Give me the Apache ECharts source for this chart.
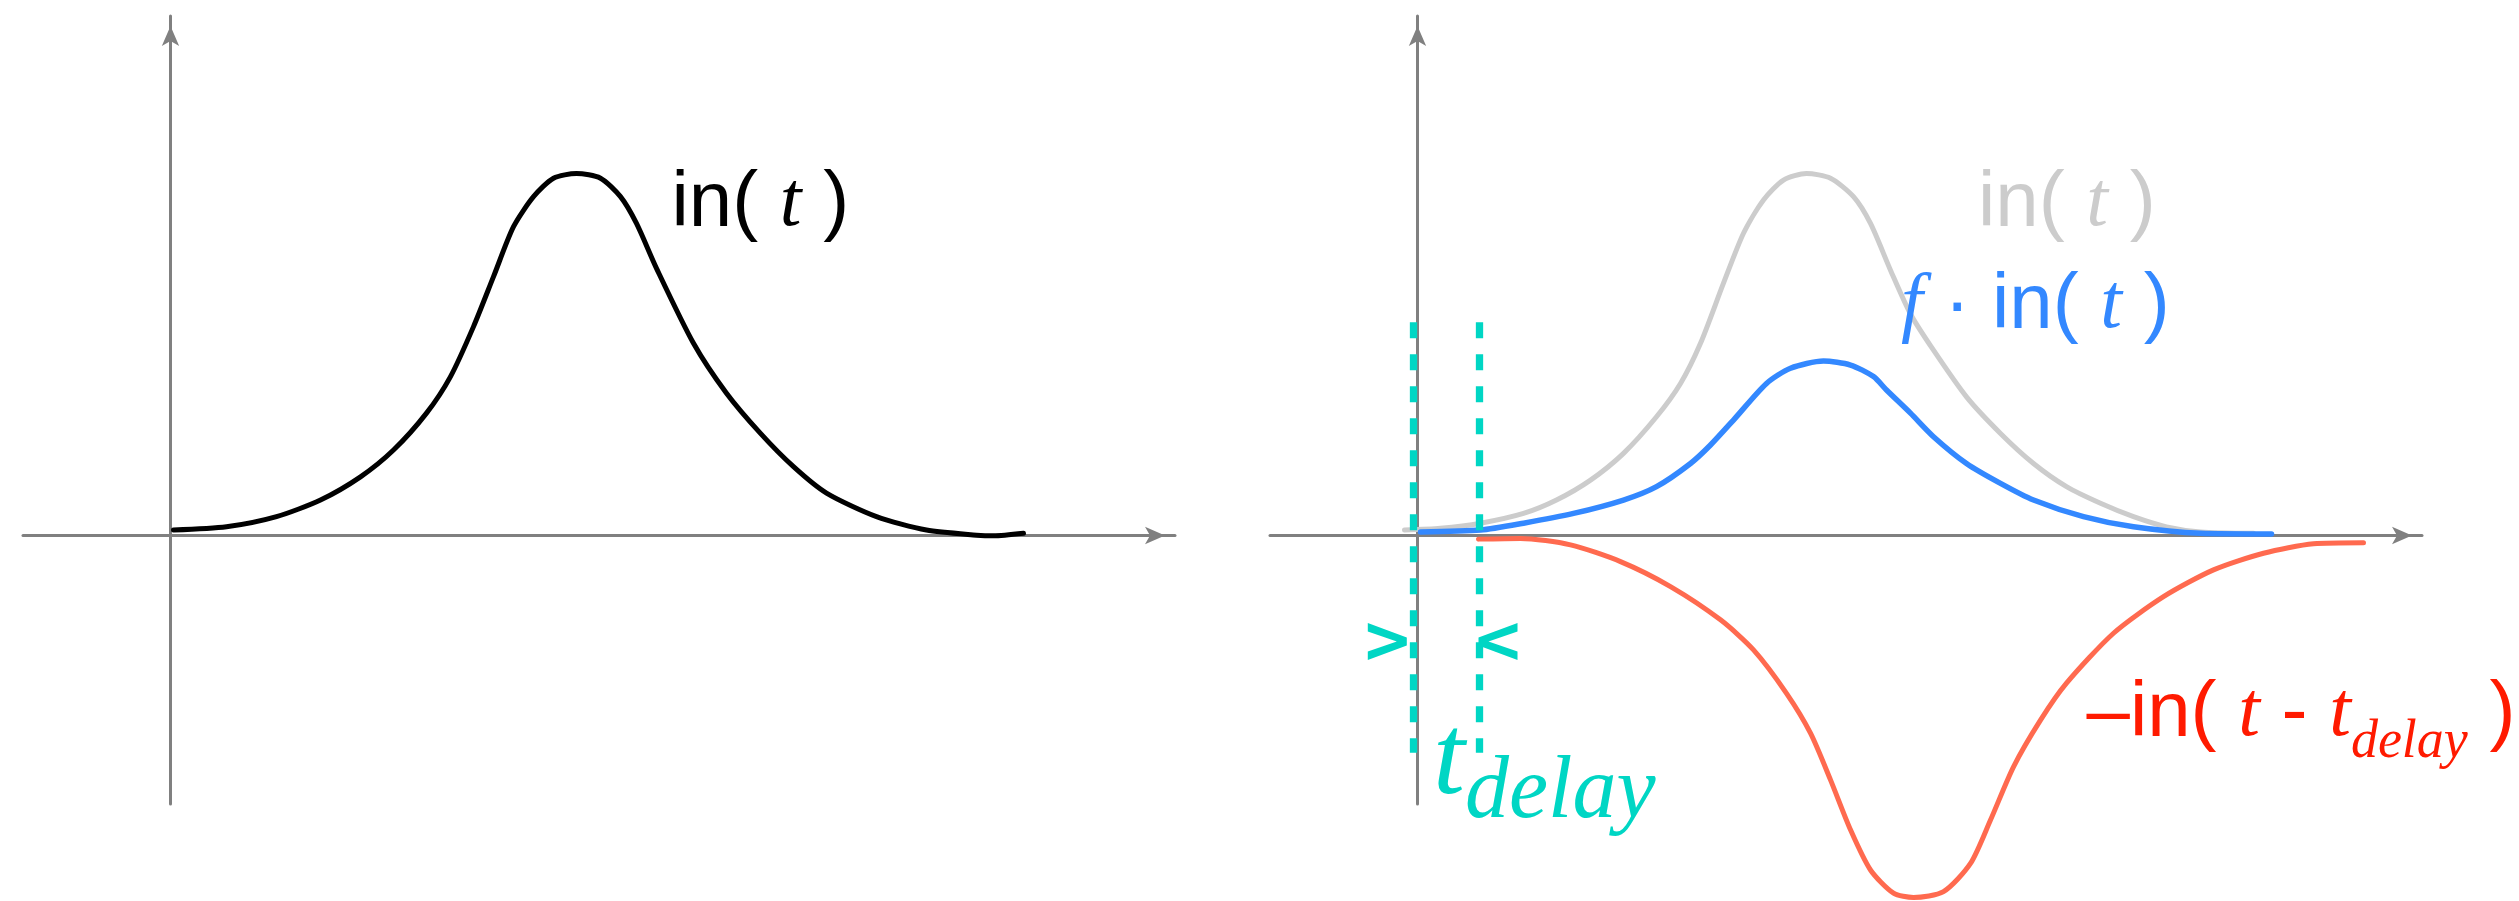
<!DOCTYPE html>
<html>
<head>
<meta charset="utf-8">
<title>in(t) and delayed copy</title>
<script src="https://cdn.jsdelivr.net/npm/echarts/dist/echarts.min.js"></script>
<style>
  html, body { margin: 0; padding: 0; background: #fff; }
  #chart { width: 2519px; height: 901px; }
</style>
</head>
<body>
<div id="chart"></div>
<script>
// left panel: in(t)
var inT = [0.03, 0.56, 1.06, 1.50, 1.90, 2.23, 2.56, 2.80, 3.03, 3.23, 3.43, 3.63, 3.83, 4.06, 4.30, 4.50, 4.66, 4.86, 5.23, 5.56, 5.90, 6.23, 6.56, 7.06, 7.56, 8.06, 8.23, 8.53];
var inV = [0.015, 0.024, 0.052, 0.098, 0.162, 0.236, 0.338, 0.439, 0.577, 0.715, 0.853, 0.936, 0.987, 1.0, 0.987, 0.936, 0.862, 0.738, 0.531, 0.393, 0.282, 0.190, 0.117, 0.052, 0.015, 0.001, -0.001, 0.006];

// right panel: in(t) again (grey)
var grayT = [-0.13, 0.23, 0.63, 1.06, 1.39, 1.73, 2.06, 2.39, 2.63, 2.83, 3.06, 3.26, 3.46, 3.66, 3.89, 4.13, 4.36, 4.53, 4.73, 4.93, 5.16, 5.49, 5.83, 6.16, 6.49, 6.83, 7.16, 7.49, 7.83, 8.36];
var grayV = [0.015, 0.020, 0.034, 0.061, 0.098, 0.153, 0.227, 0.328, 0.420, 0.531, 0.697, 0.835, 0.927, 0.982, 1.0, 0.987, 0.936, 0.862, 0.733, 0.612, 0.512, 0.383, 0.282, 0.199, 0.135, 0.089, 0.052, 0.024, 0.010, 0.006];

// f * in(t)
var blueT = [0.03, 0.63, 1.06, 1.56, 2.06, 2.39, 2.73, 2.93, 3.16, 3.49, 3.73, 4.06, 4.33, 4.56, 4.69, 4.93, 5.16, 5.49, 5.83, 6.16, 6.66, 7.16, 7.83, 8.54];
var blueV = [0.010, 0.015, 0.034, 0.061, 0.098, 0.135, 0.199, 0.250, 0.319, 0.420, 0.462, 0.482, 0.471, 0.439, 0.402, 0.338, 0.273, 0.199, 0.144, 0.098, 0.052, 0.024, 0.006, 0.004];

// -in(t - tdelay)
var redT = [0.61, 1.03, 1.53, 2.03, 2.53, 3.03, 3.36, 3.69, 3.93, 4.13, 4.33, 4.53, 4.76, 4.96, 5.26, 5.53, 5.73, 5.96, 6.23, 6.49, 6.96, 7.46, 7.96, 8.46, 8.96, 9.46];
var redV = [-0.010, -0.008, -0.026, -0.072, -0.141, -0.233, -0.316, -0.436, -0.546, -0.675, -0.813, -0.924, -0.988, -1.0, -0.984, -0.906, -0.786, -0.639, -0.510, -0.408, -0.270, -0.169, -0.095, -0.049, -0.023, -0.020];

// the two ends of t_delay
var delayT = [-0.04, 0.62];
var delaySpan = [0.589, -0.6];

function pairs(ts, vs) {
  return ts.map(function (t, i) { return [t, vs[i]]; });
}

var SANS = '"Liberation Sans", Arial, Helvetica, sans-serif';
var SERIF = '"Liberation Serif", "Times New Roman", serif';
var AXIS = '#808080';
var TEAL = '#00d6c4';

function richFor(color) {
  return {
    s: { fontFamily: SANS, fontSize: 78, color: color, lineHeight: 110 },
    i: { fontFamily: SERIF, fontStyle: 'italic', fontSize: 78, color: color, lineHeight: 110 },
    sub: { fontFamily: SERIF, fontStyle: 'italic', fontSize: 54, color: color, lineHeight: 55, verticalAlign: 'bottom' }
  };
}

// text put on the chart at a data position
function textMark(coord, text, color) {
  return {
    silent: true,
    symbol: 'circle',
    symbolSize: 0,
    itemStyle: { color: 'rgba(0,0,0,0)' },
    label: {
      show: true,
      position: 'inside',
      align: 'left',
      verticalAlign: 'middle',
      formatter: text,
      rich: richFor(color)
    },
    data: [{ coord: coord }]
  };
}

function axisPair(idx) {
  return {
    x: {
      type: 'value', gridIndex: idx, min: -1.475, max: 10.045,
      axisLine: { onZero: true, lineStyle: { color: AXIS, width: 3 },
        symbol: ['none', 'arrow'], symbolSize: [13, 20], symbolOffset: [0, -10] },
      axisTick: { show: false }, axisLabel: { show: false }, splitLine: { show: false }
    },
    y: {
      type: 'value', gridIndex: idx, min: -0.7417, max: 1.4351,
      axisLine: { onZero: true, lineStyle: { color: AXIS, width: 3 },
        symbol: ['none', 'arrow'], symbolSize: [13, 20], symbolOffset: [0, -10] },
      axisTick: { show: false }, axisLabel: { show: false }, splitLine: { show: false }
    }
  };
}

function curve(name, idx, data, color, width) {
  return {
    name: name, type: 'line', xAxisIndex: idx, yAxisIndex: idx,
    data: data, showSymbol: false, smooth: 0.25, clip: false,
    silent: true, animation: false,
    lineStyle: { color: color, width: width, cap: 'round', join: 'round' }
  };
}

function dashLine(t) {
  return {
    type: 'line', xAxisIndex: 1, yAxisIndex: 1, silent: true, animation: false,
    showSymbol: false, clip: false,
    data: [[t, delaySpan[0]], [t, delaySpan[1]]],
    lineStyle: { color: TEAL, width: 7.3, type: [16, 16], cap: 'butt' },
    z: 5
  };
}

var a0 = axisPair(0), a1 = axisPair(1);

var blackLine = curve('in(t)', 0, pairs(inT, inV), '#000000', 5);
blackLine.markPoint = textMark([5.01, 0.914], '{s|in( }{i|t}{s| )}', '#000000');

var grayLine = curve('in(t) right', 1, pairs(grayT, grayV), '#cccccc', 5);
grayLine.markPoint = textMark([5.605, 0.914], '{s|in( }{i|t}{s| )}', '#cccccc');

var blueLine = curve('f in(t)', 1, pairs(blueT, blueV), '#3388ff', 5.5);
blueLine.markPoint = textMark([4.835, 0.633], '{i|f}{s| · in( }{i|t}{s| )}', '#3388ff');

var redLine = curve('-in(t - tdelay)', 1, pairs(redT, redV), '#ff6a4f', 5);
redLine.markPoint = textMark([6.69, -0.495], '{s|–in( }{i|t}{s| - }{i|t}{sub|delay}{s| )}', '#ff1a00');

var leftDash = dashLine(delayT[0]);
var rightDash = dashLine(delayT[1]);
// chevrons pointing at the two dashed lines
rightDash.markPoint = {
  silent: true,
  label: { show: false },
  itemStyle: { color: TEAL },
  data: [
    { coord: [-0.302, -0.293], symbol: 'path://M0,0 L39,14.5 L39,22.5 L0,37 L0,28.5 L29,18.5 L0,8.5 Z', symbolSize: [39, 37] },
    { coord: [0.805, -0.293], symbol: 'path://M39,0 L0,14.5 L0,22.5 L39,37 L39,28.5 L10,18.5 L39,8.5 Z', symbolSize: [39, 37] }
  ]
};
leftDash.markPoint = {
  silent: true,
  symbol: 'circle',
  symbolSize: 0,
  itemStyle: { color: 'rgba(0,0,0,0)' },
  label: {
    show: true, position: 'inside', align: 'left', verticalAlign: 'middle',
    formatter: '{tt|t}{ts|delay}',
    rich: {
      tt: { fontFamily: SERIF, fontStyle: 'italic', fontSize: 115, color: TEAL, lineHeight: 150 },
      ts: { fontFamily: SERIF, fontStyle: 'italic', fontSize: 88, color: TEAL, lineHeight: 70, verticalAlign: 'bottom' }
    }
  },
  data: [{ coord: [0.155, -0.629] }]
};

var chart = echarts.init(document.getElementById('chart'), null, { renderer: 'canvas' });
chart.setOption({
  backgroundColor: '#ffffff',
  animation: false,
  grid: [
    { left: 23, top: 16, width: 1152, height: 788, containLabel: false, outerBoundsMode: 'none' },
    { left: 1270, top: 16, width: 1152, height: 788, containLabel: false, outerBoundsMode: 'none' }
  ],
  xAxis: [a0.x, a1.x],
  yAxis: [a0.y, a1.y],
  series: [blackLine, grayLine, blueLine, redLine, leftDash, rightDash]
});
</script>
</body>
</html>
